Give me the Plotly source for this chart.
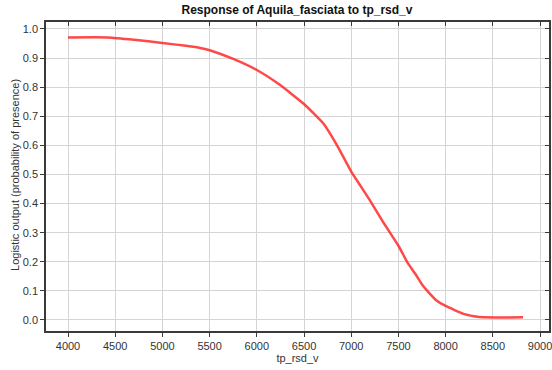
import plotly.graph_objects as go

# response curve
tp_rsd_v = [4000, 4420, 4700, 5000, 5250, 5400, 5500, 5750, 6000, 6240, 6500, 6705,
            6850, 7000, 7100, 7200, 7340, 7500, 7550, 7600, 7680, 7750, 7820, 7900,
            8000, 8190, 8300, 8400, 8820]
presence = [0.971, 0.971, 0.963, 0.952, 0.942, 0.935, 0.927, 0.897, 0.859, 0.809, 0.742, 0.675,
            0.600, 0.510, 0.460, 0.410, 0.335, 0.255, 0.225, 0.195, 0.158, 0.122, 0.095, 0.068,
            0.048, 0.021, 0.013, 0.009, 0.009]

x_ticks = [4000, 4500, 5000, 5500, 6000, 6500, 7000, 7500, 8000, 8500, 9000]
y_ticks = [0.0, 0.1, 0.2, 0.3, 0.4, 0.5, 0.6, 0.7, 0.8, 0.9, 1.0]

x_range = [3767, 9095]
y_range = [-0.038, 1.024]
font = "Liberation Sans, Arial, sans-serif"

fig = go.Figure()
fig.add_trace(go.Scatter(x=tp_rsd_v, y=presence, mode="lines",
                         line=dict(color="rgba(255,40,40,0.85)", width=2.5, shape="spline", smoothing=0.4),
                         showlegend=False, hoverinfo="skip"))
# dummy trace so the mirrored top/right axes are drawn
fig.add_trace(go.Scatter(x=[None], y=[None], xaxis="x2", yaxis="y2", showlegend=False))

axis_line = dict(showline=True, linecolor="#3a3a3a", linewidth=1.5, automargin=False)
fig.update_layout(
    width=552, height=370,
    margin=dict(l=46, r=3, t=22, b=39),
    paper_bgcolor="white", plot_bgcolor="white",
    font=dict(family=font, size=11, color="#333333"),
    title=dict(text="<b>Response of Aquila_fasciata to tp_rsd_v</b>",
               x=0.538, xanchor="center", y=0.985, yanchor="top",
               font=dict(family=font, size=12, color="#111111")),
    xaxis=dict(range=x_range, tickvals=x_ticks, ticks="outside", ticklen=4, tickcolor="#3a3a3a",
               showgrid=True, gridcolor="#d4d4d4", gridwidth=1, zeroline=False,
               ticklabeloverflow="allow",
               title=dict(text="tp_rsd_v", standoff=2, font=dict(size=11)), **axis_line),
    yaxis=dict(range=y_range, tickvals=y_ticks, tickformat=".1f", ticks="outside", ticklen=4,
               tickcolor="#3a3a3a", showgrid=True, gridcolor="#d4d4d4", gridwidth=1, zeroline=False,
               **axis_line),
    xaxis2=dict(range=x_range, tickvals=x_ticks, overlaying="x", side="top", anchor="y2",
                ticks="inside", ticklen=4, tickcolor="#3a3a3a", showticklabels=False,
                showgrid=False, zeroline=False, **axis_line),
    yaxis2=dict(range=y_range, tickvals=y_ticks, overlaying="y", side="right", anchor="x2",
                ticks="inside", ticklen=4, tickcolor="#3a3a3a", showticklabels=False,
                showgrid=False, zeroline=False, **axis_line),
)

# y axis title placed by hand to sit where the reference has it
fig.add_annotation(text="Logistic output (probability of presence)", textangle=-90,
                   xref="paper", yref="paper", x=-31 / 503, y=0.505,
                   xanchor="center", yanchor="middle", showarrow=False,
                   font=dict(family=font, size=11, color="#333333"))

# drop the default page margin so the figure sits at the window's corner
fig.write_html("out.html", config={"displayModeBar": False},
               post_script="document.body.style.margin='0';")
